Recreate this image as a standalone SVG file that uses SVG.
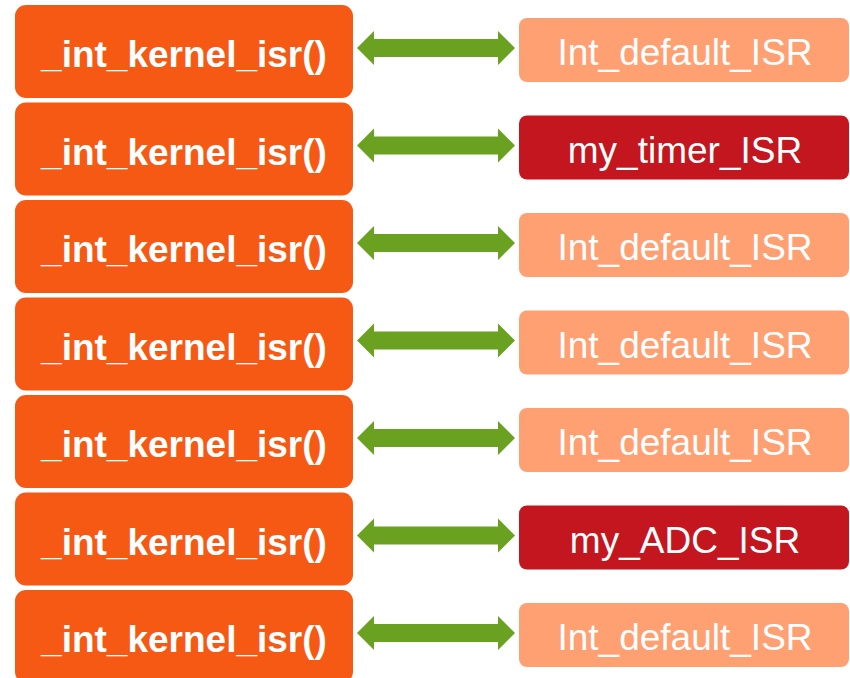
<svg xmlns="http://www.w3.org/2000/svg" width="850" height="678" viewBox="0 0 850 678">
  <defs>
    <style>
      .k { fill: #F65914; }
      .d { fill: #FFA073; }
      .m { fill: #C3161F; }
      .kt { font-family: "Liberation Sans", Arial, sans-serif; font-weight: bold; font-size: 37px; fill: #FFFFFF; text-anchor: middle; }
      .rt { font-family: "Liberation Sans", Arial, sans-serif; font-size: 37px; fill: #FFFFFF; text-anchor: middle; }
      .arrow { fill: #6AA121; }
    </style>
    <!-- double-headed link arrow, centred on y=0 -->
    <polygon id="dbl" points="357,0 374,-17 374,-9 498,-9 498,-17 515,0 498,17 498,9 374,9 374,17"/>
  </defs>

  <rect width="850" height="678" fill="#FFFFFF"/>

  <!-- kernel dispatcher entries -->
  <g id="kernel1"><rect class="k" x="15" y="5" width="338" height="93" rx="11"/><text class="kt" x="184" y="67">_int_kernel_isr()</text></g>
  <g id="kernel2"><rect class="k" x="15" y="102.5" width="338" height="93" rx="11"/><text class="kt" x="184" y="164.5">_int_kernel_isr()</text></g>
  <g id="kernel3"><rect class="k" x="15" y="200" width="338" height="93" rx="11"/><text class="kt" x="184" y="262">_int_kernel_isr()</text></g>
  <g id="kernel4"><rect class="k" x="15" y="297.5" width="338" height="93" rx="11"/><text class="kt" x="184" y="359.5">_int_kernel_isr()</text></g>
  <g id="kernel5"><rect class="k" x="15" y="395" width="338" height="93" rx="11"/><text class="kt" x="184" y="457">_int_kernel_isr()</text></g>
  <g id="kernel6"><rect class="k" x="15" y="492.5" width="338" height="93" rx="11"/><text class="kt" x="184" y="554.5">_int_kernel_isr()</text></g>
  <g id="kernel7"><rect class="k" x="15" y="590" width="338" height="93" rx="11"/><text class="kt" x="184" y="652">_int_kernel_isr()</text></g>

  <!-- user ISR table entries -->
  <g id="isr1"><rect class="d" x="519" y="18" width="330" height="64" rx="8"/><text class="rt" x="685" y="65">Int_default_ISR</text></g>
  <g id="isr2"><rect class="m" x="519" y="115.5" width="330" height="64" rx="8"/><text class="rt" x="685" y="162.5">my_timer_ISR</text></g>
  <g id="isr3"><rect class="d" x="519" y="213" width="330" height="64" rx="8"/><text class="rt" x="685" y="260">Int_default_ISR</text></g>
  <g id="isr4"><rect class="d" x="519" y="310.5" width="330" height="64" rx="8"/><text class="rt" x="685" y="357.5">Int_default_ISR</text></g>
  <g id="isr5"><rect class="d" x="519" y="408" width="330" height="64" rx="8"/><text class="rt" x="685" y="455">Int_default_ISR</text></g>
  <g id="isr6"><rect class="m" x="519" y="505.5" width="330" height="64" rx="8"/><text class="rt" x="685" y="552.5">my_ADC_ISR</text></g>
  <g id="isr7"><rect class="d" x="519" y="603" width="330" height="64" rx="8"/><text class="rt" x="685" y="650">Int_default_ISR</text></g>

  <!-- connectors -->
  <g id="connectors" class="arrow">
    <use href="#dbl" y="48"/>
    <use href="#dbl" y="145.5"/>
    <use href="#dbl" y="243"/>
    <use href="#dbl" y="340.5"/>
    <use href="#dbl" y="438"/>
    <use href="#dbl" y="535.5"/>
    <use href="#dbl" y="633"/>
  </g>
</svg>
